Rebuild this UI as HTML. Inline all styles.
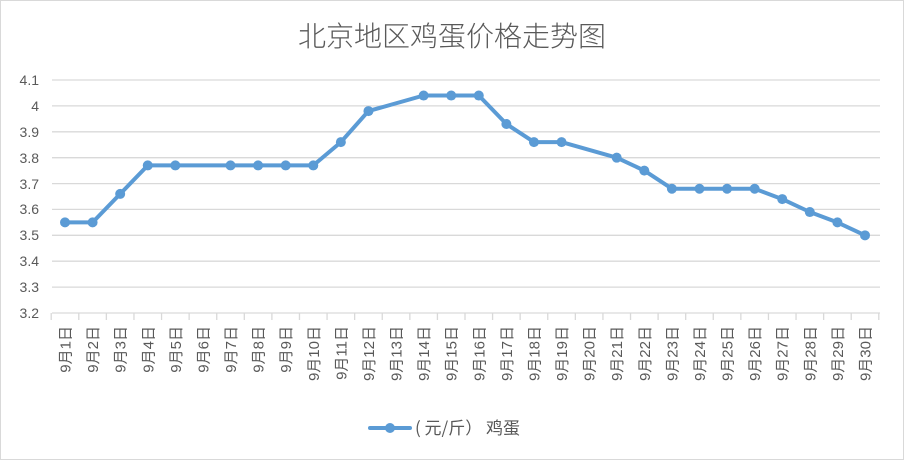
<!DOCTYPE html>
<html><head><meta charset="utf-8"><style>
html,body{margin:0;padding:0;background:#fff;}
svg{display:block;}
text{font-family:"Liberation Sans","Noto Sans CJK SC",sans-serif;}
</style></head><body>
<svg width="904" height="460" xmlns="http://www.w3.org/2000/svg">
<rect x="0.5" y="0.5" width="903" height="459" fill="#fff" stroke="#d9d9d9"/>
<text x="452" y="46" text-anchor="middle" font-size="28" fill="#595959" style="font-family:'Noto Sans CJK SC',sans-serif;font-weight:300">北京地区鸡蛋价格走势图</text>
<g stroke="#d9d9d9" stroke-width="1.3">
<line x1="52" x2="880" y1="80" y2="80"/><line x1="52" x2="880" y1="105.9" y2="105.9"/>
<line x1="52" x2="880" y1="131.8" y2="131.8"/><line x1="52" x2="880" y1="157.7" y2="157.7"/>
<line x1="52" x2="880" y1="183.6" y2="183.6"/><line x1="52" x2="880" y1="209.4" y2="209.4"/>
<line x1="52" x2="880" y1="235.3" y2="235.3"/><line x1="52" x2="880" y1="261.2" y2="261.2"/>
<line x1="52" x2="880" y1="287.1" y2="287.1"/><line x1="52" x2="880" y1="313" y2="313"/>
</g>
<g font-size="14" fill="#595959" text-anchor="end">
<text x="39" y="85">4.1</text><text x="39" y="111">4</text><text x="39" y="137">3.9</text>
<text x="39" y="163">3.8</text><text x="39" y="189">3.7</text><text x="39" y="214">3.6</text>
<text x="39" y="240">3.5</text><text x="39" y="266">3.4</text><text x="39" y="292">3.3</text>
<text x="39" y="318">3.2</text>
</g>
<g id="ticks" stroke="#d9d9d9" stroke-width="1.3"></g>
<g id="labels" font-size="15" fill="#595959"></g>
<polyline id="ln" fill="none" stroke="#5b9bd5" stroke-width="4" stroke-linejoin="round" stroke-linecap="round"/>
<g id="mk" fill="#5b9bd5"></g>
<line x1="370" y1="428" x2="410" y2="428" stroke="#5b9bd5" stroke-width="4" stroke-linecap="round"/>
<circle cx="390" cy="428" r="5" fill="#5b9bd5"/>
<text x="415" y="434" font-size="17" fill="#595959" style="font-family:'Noto Sans CJK SC',sans-serif">( 元/斤） 鸡蛋</text>
</svg>
<script>
var ns="http://www.w3.org/2000/svg";
var vals=[3.55,3.55,3.66,3.77,3.77,null,3.77,3.77,3.77,3.77,3.86,3.98,null,4.04,4.04,4.04,3.93,3.86,3.86,null,3.80,3.75,3.68,3.68,3.68,3.68,3.64,3.59,3.55,3.50];
var step=800/29,pts=[],tk=document.getElementById('ticks'),lb=document.getElementById('labels'),mk=document.getElementById('mk');
for(var k=0;k<=30;k++){var bx=65-step/2+k*step;var l=document.createElementNS(ns,'line');l.setAttribute('x1',bx);l.setAttribute('x2',bx);l.setAttribute('y1',313);l.setAttribute('y2',320);tk.appendChild(l);}
for(var i=0;i<30;i++){var x=65+i*step;
var t=document.createElementNS(ns,'text');t.setAttribute('transform','translate('+(x+5.5)+',326) rotate(-90)');t.setAttribute('text-anchor','end');t.textContent='9月'+(i+1)+'日';lb.appendChild(t);
if(vals[i]!=null){var y=313-(vals[i]-3.2)/0.9*233;pts.push(x.toFixed(1)+','+y.toFixed(1));
var c=document.createElementNS(ns,'circle');c.setAttribute('cx',x);c.setAttribute('cy',y);c.setAttribute('r',5);mk.appendChild(c);}}
document.getElementById('ln').setAttribute('points',pts.join(' '));
</script>
</body></html>
